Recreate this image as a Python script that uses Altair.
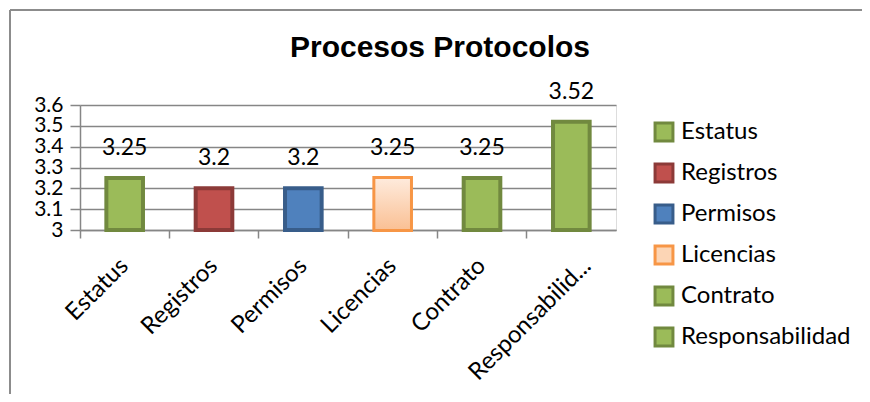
import altair as alt
import pandas as pd

categories = ["Estatus", "Registros", "Permisos", "Licencias", "Contrato", "Responsabilidad"]
values = [3.25, 3.2, 3.2, 3.25, 3.25, 3.52]
fills = ["#9BBB59", "#C0504D", "#4F81BD", "#FCD5B5", "#9BBB59", "#9BBB59"]
strokes = ["#71893F", "#8C3A38", "#385D8A", "#F79646", "#71893F", "#71893F"]
y_ticks = [3.0, 3.1, 3.2, 3.3, 3.4, 3.5, 3.6]
baseline = 3.0

df = pd.DataFrame({"cat": categories, "val": values})
FONT = "Lato"

x = alt.X("cat:N", sort=categories, title=None,
          scale=alt.Scale(paddingInner=0, paddingOuter=0),
          axis=alt.Axis(labelAngle=-45, labelAlign="right", labelBaseline="middle",
                        labelFont=FONT, labelFontSize=24, labelColor="black",
                        labelPadding=24, bandPosition=0, tickSize=8, tickColor="#868686",
                        domainColor="#868686", domainWidth=1.5, tickWidth=1.5,
                        labelOffset={"condition": {"test": "datum.value == 'Responsabilidad'", "value": 16},
                                     "value": 0},
                        labelExpr="datum.label == 'Responsabilidad' ? 'Responsabilid...' : datum.label"))
y = alt.Y("val:Q", title=None,
          scale=alt.Scale(domain=[3, 3.6], zero=False, nice=False),
          axis=alt.Axis(values=y_ticks, format=".1~f", labelFont=FONT, labelFontSize=21,
                        labelColor="black", labelOverlap=False, labelPadding=7,
                        tickSize=10, tickColor="#868686", tickWidth=1.5,
                        domainColor="#868686", domainWidth=1.5,
                        gridColor="#868686", gridWidth=1.5, labelFlush=False))
y2 = alt.Y2(datum=baseline)

bars = alt.Chart(df).mark_bar(width={"band": 0.41}, strokeWidth=4).encode(
    x=x, y=y, y2=y2,
    fill=alt.Fill("cat:N", sort=categories, scale=alt.Scale(domain=categories, range=fills),
                  legend=alt.Legend(title=None, orient="none", legendX=572, legendY=15,
                                    symbolType="square", symbolSize=320, symbolStrokeWidth=3,
                                    labelFont=FONT, labelFontSize=24, labelColor="black",
                                    labelLimit=300, rowPadding=11, labelOffset=5, padding=0)),
    stroke=alt.Stroke("cat:N", sort=categories, scale=alt.Scale(domain=categories, range=strokes)),
)

lic = alt.Chart(df).transform_filter(alt.datum.cat == "Licencias").mark_bar(
    width={"band": 0.41}, strokeWidth=2, stroke="#F79646",
    fill=alt.Gradient(gradient="linear", x1=0, x2=0, y1=0, y2=1,
                      stops=[alt.GradientStop(color="#FEEBDD", offset=0),
                             alt.GradientStop(color="#FAC094", offset=1)])
).encode(x=x, y=y, y2=y2)

labels = alt.Chart(df).mark_text(font=FONT, fontSize=23, dy=-30, color="black").encode(
    x=x, y=y, text=alt.Text("val:Q", format=".2~f"))

frame_df = pd.DataFrame({"a": [0]})
top_line = alt.Chart(frame_df).mark_rule(color="#8C8C8C", strokeWidth=2).encode(
    x=alt.value(-70), x2=alt.value(820), y=alt.value(-95))
left_line = alt.Chart(frame_df).mark_rule(color="#8C8C8C", strokeWidth=2).encode(
    x=alt.value(-70), y=alt.value(-95), y2=alt.value(320))

chart = alt.layer(top_line, left_line, bars, lic, labels).properties(
    width=536, height=125,
    padding={"left": 72, "top": 97, "right": 246, "bottom": 164},
    autosize=alt.AutoSizeParams(type="none"),
    title=alt.TitleParams("Procesos Protocolos", font="Liberation Sans", fontSize=30,
                          fontWeight="bold", color="black", anchor="middle", dx=92,
                          offset=0, dy=54),
).configure_view(stroke=None).configure(background="white")

chart.save("out.html", embed_options={"renderer": "svg", "actions": False})
